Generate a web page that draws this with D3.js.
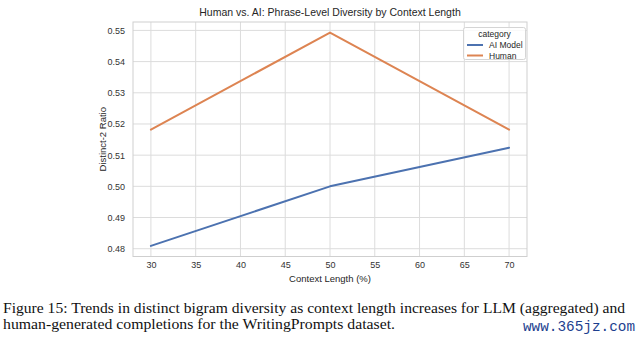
<!DOCTYPE html>
<html><head><meta charset="utf-8">
<script src="https://cdn.jsdelivr.net/npm/d3@7"></script>
<style>html,body{margin:0;padding:0;background:#fff;}svg{display:block;}</style>
</head><body>
<script>
const contextLengths = [30, 50, 70];
const aiModel = [0.4809, 0.5000, 0.5124];
const human = [0.5182, 0.5493, 0.5182];
const seriesNames = ["AI Model", "Human"];
const xTicks = [30, 35, 40, 45, 50, 55, 60, 65, 70];
const yTicks = [0.48, 0.49, 0.50, 0.51, 0.52, 0.53, 0.54, 0.55];
const colors = ["#4c72b0", "#dd8452"];

const W = 640, H = 341;
const svg = d3.select("body").append("svg").attr("width", W).attr("height", H);
const plot = {left: 133, right: 527, top: 22, bottom: 256.5};

const x = d3.scaleLinear().domain([28, 72]).range([plot.left, plot.right]);
const y = d3.scaleLinear().domain([0.4775, 0.5527]).range([plot.bottom, plot.top]);

const gridColor = "#dcdcdc";
const font = "Liberation Sans, Arial, sans-serif";

// grid
svg.append("g").selectAll("line").data(xTicks).join("line")
  .attr("x1", d => x(d)).attr("x2", d => x(d))
  .attr("y1", plot.top).attr("y2", plot.bottom)
  .attr("stroke", gridColor).attr("stroke-width", 1);
svg.append("g").selectAll("line").data(yTicks).join("line")
  .attr("x1", plot.left).attr("x2", plot.right)
  .attr("y1", d => y(d)).attr("y2", d => y(d))
  .attr("stroke", gridColor).attr("stroke-width", 1);

// axes
const xAxis = d3.axisBottom(x).tickValues(xTicks).tickSize(0).tickPadding(5).tickFormat(d3.format("d"));
const yAxis = d3.axisLeft(y).tickValues(yTicks).tickSize(0).tickPadding(8).tickFormat(d3.format(".2f"));
const gx = svg.append("g").attr("transform", `translate(0,${plot.bottom})`).call(xAxis);
const gy = svg.append("g").attr("transform", `translate(${plot.left},0)`).call(yAxis);
[gx, gy].forEach(g => {
  g.select(".domain").remove();
  g.selectAll("text").attr("font-family", font).attr("font-size", 9).attr("fill", "#333");
});

// frame
svg.append("rect").attr("x", plot.left).attr("y", plot.top)
  .attr("width", plot.right - plot.left).attr("height", plot.bottom - plot.top)
  .attr("fill", "none").attr("stroke", "#cfcfcf").attr("stroke-width", 1);

// lines
const line = d3.line().x((d, i) => x(contextLengths[i])).y(d => y(d));
[aiModel, human].forEach((s, i) => {
  svg.append("path").datum(s).attr("d", line)
    .attr("fill", "none").attr("stroke", colors[i]).attr("stroke-width", 2)
    .attr("stroke-linecap", "round").attr("stroke-linejoin", "round");
});

// title and labels
svg.append("text").attr("x", (plot.left + plot.right) / 2).attr("y", 16)
  .attr("text-anchor", "middle").attr("font-family", font).attr("font-size", 10.5).attr("fill", "#262626")
  .text("Human vs. AI: Phrase-Level Diversity by Context Length");
svg.append("text").attr("x", (plot.left + plot.right) / 2).attr("y", 281.5)
  .attr("text-anchor", "middle").attr("font-family", font).attr("font-size", 9.5).attr("fill", "#262626")
  .text("Context Length (%)");
svg.append("text").attr("transform", `translate(106,${(plot.top + plot.bottom) / 2}) rotate(-90)`)
  .attr("text-anchor", "middle").attr("font-family", font).attr("font-size", 9.5).attr("fill", "#262626")
  .text("Distinct-2 Ratio");

// legend
const lg = svg.append("g");
lg.append("rect").attr("x", 463.5).attr("y", 27.5).attr("width", 62).attr("height", 32)
  .attr("rx", 2).attr("fill", "#fff").attr("fill-opacity", 0.8).attr("stroke", "#d5d5d5");
lg.append("text").attr("x", 494.5).attr("y", 37).attr("text-anchor", "middle")
  .attr("font-family", font).attr("font-size", 8.5).attr("fill", "#262626").text("category");
seriesNames.forEach((n, i) => {
  const yy = 45 + i * 10.5;
  lg.append("line").attr("x1", 467).attr("x2", 483).attr("y1", yy).attr("y2", yy)
    .attr("stroke", colors[i]).attr("stroke-width", 2);
  lg.append("text").attr("x", 489).attr("y", yy + 3).attr("font-family", font)
    .attr("font-size", 8.5).attr("fill", "#262626").text(n);
});

// caption
const serif = "Liberation Serif, Times New Roman, serif";
svg.append("text").attr("x", 3).attr("y", 313).attr("font-family", serif).attr("font-size", 14.5)
  .attr("fill", "#111").attr("textLength", 622).attr("lengthAdjust", "spacingAndGlyphs")
  .text("Figure 15: Trends in distinct bigram diversity as context length increases for LLM (aggregated) and");
svg.append("text").attr("x", 3).attr("y", 329).attr("font-family", serif).attr("font-size", 14.5)
  .attr("fill", "#111").attr("textLength", 392).attr("lengthAdjust", "spacingAndGlyphs")
  .text("human-generated completions for the WritingPrompts dataset.");
svg.append("text").attr("x", 523).attr("y", 331).attr("font-family", "Liberation Mono, monospace")
  .attr("font-size", 14).attr("fill", "#1d3f8f").attr("textLength", 112).attr("lengthAdjust", "spacingAndGlyphs")
  .text("www.365jz.com");
</script>
</body></html>
